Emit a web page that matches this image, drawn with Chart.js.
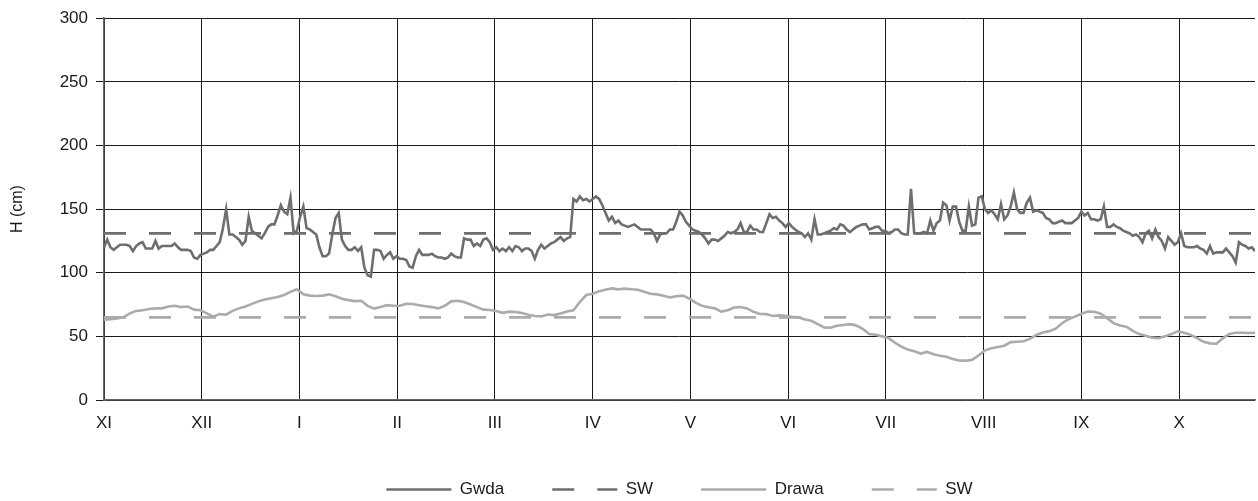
<!DOCTYPE html>
<html>
<head>
<meta charset="utf-8">
<script src="https://cdn.jsdelivr.net/npm/chart.js@4/dist/chart.umd.min.js"></script>
<style>
html,body{margin:0;padding:0;background:#fff;}
#wrap{width:1258px;height:501px;position:relative;}
</style>
</head>
<body>
<div id="wrap"><canvas id="c"></canvas></div>
<script>
// Month labels of the hydrological year (XI..X)
const months = ['XI','XII','I','II','III','IV','V','VI','VII','VIII','IX','X'];

// Gwda daily water stage H (cm), day 0 = 1 XI
const gwda = [
120,126,120,118,120,122,122,122,121,117,
121,123,124,119,119,119,125,119,121,121,
121,121,123,120,118,118,118,117,112,111,
114,115,116,118,118,121,124,135,150,130,
130,128,126,122,125,144,133,131,129,127,
131,136,138,138,145,153,148,146,159,131,
133,144,152,135,134,132,130,120,113,113,
115,130,143,147,126,121,118,118,120,117,
120,104,98,97,118,118,117,111,114,116,
111,113,111,111,110,105,104,113,118,114,
114,114,115,113,112,112,111,112,115,113,
112,112,127,126,126,121,123,121,126,127,
124,118,120,117,119,117,120,117,121,120,
117,119,119,117,111,118,122,119,121,123,
124,126,128,125,127,128,158,156,160,157,
158,156,158,160,158,153,147,141,144,139,
141,138,137,136,137,138,136,134,134,134,
134,131,125,130,131,131,134,134,140,148,
145,140,137,134,133,132,130,127,123,126,
126,125,127,129,132,131,132,134,139,132,
132,137,134,134,132,132,139,146,143,144,
141,139,136,139,136,134,132,131,128,131,
126,142,130,130,131,132,133,135,134,138,
137,134,132,134,136,137,138,138,134,135,
136,136,133,133,131,132,134,134,131,130,
130,166,131,131,131,132,131,141,133,139,
141,155,153,141,152,152,140,133,133,152,
137,138,159,160,150,147,149,146,142,154,
142,145,152,163,150,147,147,155,159,148,
149,148,147,143,142,139,139,140,141,139,
139,139,141,143,148,145,147,142,142,141,
142,152,136,136,138,136,135,133,132,131,
129,130,128,124,131,133,127,134,128,125,
119,128,125,122,124,131,121,120,120,120,
121,119,118,115,121,115,116,116,116,119,
116,113,108,124,122,121,119,120,117
];

// Drawa water stage H (cm), read every 2nd day
const drawaStep = 2;
const drawa = [
63,63.5,64,65,68,70,70.5,71.5,72,72,
73.5,74,73,73.5,71,70.5,68,65.5,67.5,67,
70,72,73.5,75.5,77.5,79,80,81,82.5,85,
87,83,82,81.7,82,83,81.5,79.5,78.5,77.7,
78,74,71.8,73,74.5,74,74,75.5,75.4,74.5,
73.7,73,72,74,77.5,78,77,75,73,71,
70.7,70,68.5,69.4,69.2,68.4,67,66,65.7,67.2,
66.7,68,69.5,70.5,77,82.5,83.5,85.5,86.7,87.7,
86.9,87.5,87,86.6,85,83.5,83,82,80.6,81.5,
82,79.8,76.5,74,72.9,72,69.5,70.5,72.7,73,
72,69.3,67.6,67.5,66,66.5,66.2,65.4,65,63.3,
62.2,59.6,57,56.9,58.3,58.9,59.6,58.5,56,51.8,
51.3,50,48.7,45,42,39.6,38.4,36.5,37.8,36,
34.7,34,32.3,31,30.9,31.5,35,39,40.6,41.6,
42.7,45.5,45.8,46.2,48,51.1,53.1,54.1,56,60.3,
63.5,65.5,67.8,69.5,69.4,67.8,64.3,60.4,58.6,57.6,
54.3,51.8,50.4,49,48.6,50,51.8,54,52.8,51.2,
48.6,45.7,44.5,44.2,48.5,51.8,52.9,52.9,52.6,52.9
];

// Mean water stages (SW)
const swGwda = 131;
const swDrawa = 65;

const seriesNames = ['Gwda','SW','Drawa','SW'];
const lastDay = 358;
const monthLength = 30.4;

const darkGrey = '#6d6e71';
const lightGrey = '#a9abae';
const textColor = '#1a1a1a';

Chart.defaults.font.family = '"Liberation Sans", Arial, sans-serif';
Chart.defaults.color = textColor;

const gwdaPts = gwda.map((v, i) => ({x: i, y: v}));
const drawaPts = drawa.map((v, i) => ({x: i * drawaStep, y: v}));

new Chart(document.getElementById('c'), {
  type: 'line',
  data: {
    datasets: [
      {label: seriesNames[0], data: gwdaPts, borderColor: darkGrey, backgroundColor: darkGrey, borderWidth: 2.6, pointRadius: 0, tension: 0},
      {label: seriesNames[1], data: [{x: 0, y: swGwda}, {x: lastDay, y: swGwda}], borderColor: darkGrey, backgroundColor: darkGrey, borderWidth: 2.8, borderDash: [22, 23], pointRadius: 0},
      {label: seriesNames[2], data: drawaPts, borderColor: lightGrey, backgroundColor: lightGrey, borderWidth: 2.6, pointRadius: 0, tension: 0},
      {label: seriesNames[3], data: [{x: 0, y: swDrawa}, {x: lastDay, y: swDrawa}], borderColor: lightGrey, backgroundColor: lightGrey, borderWidth: 2.8, borderDash: [22, 23], pointRadius: 0}
    ]
  },
  options: {
    responsive: true,
    maintainAspectRatio: false,
    animation: false,
    events: [],
    layout: {padding: {left: 0, right: 3, top: 18, bottom: -7}},
    plugins: {
      tooltip: {enabled: false},
      legend: {
        position: 'bottom',
        fullSize: false,
        labels: {
          usePointStyle: true,
          pointStyle: 'line',
          pointStyleWidth: 65,
          padding: 48,
          color: textColor,
          font: {size: 17},
          generateLabels: (chart) => chart.data.datasets.map((ds, i) => ({
            text: ds.label,
            strokeStyle: ds.borderColor,
            fillStyle: ds.borderColor,
            lineWidth: 2.4,
            lineDash: ds.borderDash || [],
            lineDashOffset: 0,
            pointStyle: 'line',
            hidden: false,
            fontColor: textColor,
            datasetIndex: i
          }))
        }
      }
    },
    scales: {
      x: {
        type: 'linear',
        min: 0,
        max: lastDay,
        afterBuildTicks: (axis) => { axis.ticks = months.map((m, i) => ({value: i * monthLength})); },
        afterFit: (scale) => { scale.height = 33; },
        ticks: {
          autoSkip: false,
          maxRotation: 0,
          padding: 13,
          color: textColor,
          font: {size: 17},
          callback: (value, index) => months[index]
        },
        grid: {color: '#1a1a1a', lineWidth: 1, drawTicks: false},
        border: {color: '#666', width: 1.5}
      },
      y: {
        min: 0,
        max: 300,
        afterFit: (scale) => { scale.width = 104; },
        ticks: {stepSize: 50, padding: 8, color: textColor, font: {size: 17}},
        grid: {color: '#1a1a1a', lineWidth: 1, tickLength: 8},
        border: {color: '#666', width: 1.5},
        title: {display: true, text: 'H (cm)', color: textColor, font: {size: 16}, padding: {top: 8, bottom: 0}}
      }
    }
  }
});
</script>
</body>
</html>
